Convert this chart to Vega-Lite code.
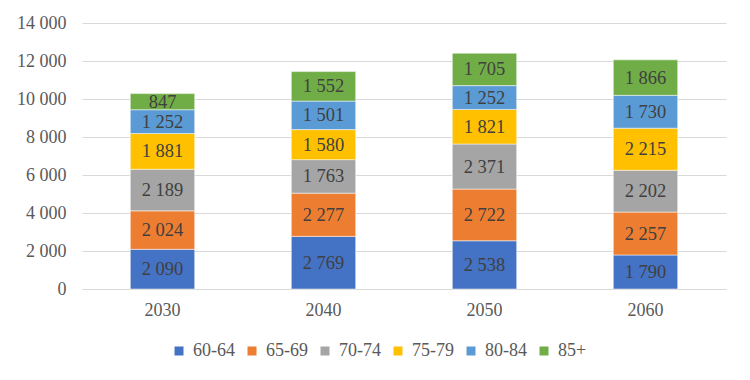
{
  "$schema": "https://vega.github.io/schema/vega-lite/v6.json",
  "width": 644,
  "height": 266,
  "autosize": "none",
  "padding": {"left": 82, "top": 23, "right": 24, "bottom": 91},
  "background": "white",
  "config": {
    "locale": {"number": {"decimal": ",", "thousands": " ", "grouping": [3], "currency": ["", ""]}},
    "font": "'Liberation Serif', 'Times New Roman', serif",
    "axis": {"labelFont": "'Liberation Serif', 'Times New Roman', serif"},
    "legend": {"labelFont": "'Liberation Serif', 'Times New Roman', serif"},
    "view": {"stroke": null}
  },
  "data": {
    "values": [
      {"year": "2030", "age": "60-64", "v": 2090},
      {"year": "2030", "age": "65-69", "v": 2024},
      {"year": "2030", "age": "70-74", "v": 2189},
      {"year": "2030", "age": "75-79", "v": 1881},
      {"year": "2030", "age": "80-84", "v": 1252},
      {"year": "2030", "age": "85+", "v": 847},
      {"year": "2040", "age": "60-64", "v": 2769},
      {"year": "2040", "age": "65-69", "v": 2277},
      {"year": "2040", "age": "70-74", "v": 1763},
      {"year": "2040", "age": "75-79", "v": 1580},
      {"year": "2040", "age": "80-84", "v": 1501},
      {"year": "2040", "age": "85+", "v": 1552},
      {"year": "2050", "age": "60-64", "v": 2538},
      {"year": "2050", "age": "65-69", "v": 2722},
      {"year": "2050", "age": "70-74", "v": 2371},
      {"year": "2050", "age": "75-79", "v": 1821},
      {"year": "2050", "age": "80-84", "v": 1252},
      {"year": "2050", "age": "85+", "v": 1705},
      {"year": "2060", "age": "60-64", "v": 1790},
      {"year": "2060", "age": "65-69", "v": 2257},
      {"year": "2060", "age": "70-74", "v": 2202},
      {"year": "2060", "age": "75-79", "v": 2215},
      {"year": "2060", "age": "80-84", "v": 1730},
      {"year": "2060", "age": "85+", "v": 1866}
    ]
  },
  "transform": [
    {"stack": "v", "groupby": ["year"], "sort": [{"field": "age", "order": "ascending"}], "as": ["y0", "y1"]},
    {"calculate": "(datum.y0 + datum.y1) / 2", "as": "ymid"}
  ],
  "encoding": {
    "x": {
      "field": "year", "type": "nominal",
      "scale": {"paddingInner": 0.6, "paddingOuter": 0.3},
      "axis": {"title": null, "labelAngle": 0, "labelFontSize": 18, "labelColor": "#595959", "labelPadding": 12, "domainColor": "#d9d9d9", "ticks": false}
    },
    "y": {
      "field": "y0", "type": "quantitative",
      "scale": {"domain": [0, 14000]},
      "axis": {"title": null, "values": [0, 2000, 4000, 6000, 8000, 10000, 12000, 14000], "format": ",d", "labelOverlap": false, "labelFontSize": 18, "labelColor": "#595959", "labelPadding": 16, "domain": false, "ticks": false, "gridColor": "#d9d9d9"}
    }
  },
  "layer": [
    {
      "mark": {"type": "bar", "stroke": "white", "strokeWidth": 0.5},
      "encoding": {
        "y2": {"field": "y1"},
        "color": {
          "field": "age", "type": "nominal",
          "scale": {"domain": ["60-64", "65-69", "70-74", "75-79", "80-84", "85+"], "range": ["#4472C4", "#ED7D31", "#A5A5A5", "#FFC000", "#5B9BD5", "#70AD47"]},
          "legend": {"title": null, "orient": "none", "direction": "horizontal", "legendX": 88, "legendY": 319, "symbolType": "square", "symbolSize": 81, "symbolStrokeWidth": 0, "labelFontSize": 18, "labelColor": "#595959", "labelOffset": 5, "columnPadding": 8}
        }
      }
    },
    {
      "mark": {"type": "text", "font": "'Liberation Serif', 'Times New Roman', serif", "fontSize": 18.5, "color": "#404040", "baseline": "middle"},
      "encoding": {
        "y": {"field": "ymid", "type": "quantitative"},
        "text": {"field": "v", "type": "quantitative", "format": ",d"}
      }
    }
  ]
}
